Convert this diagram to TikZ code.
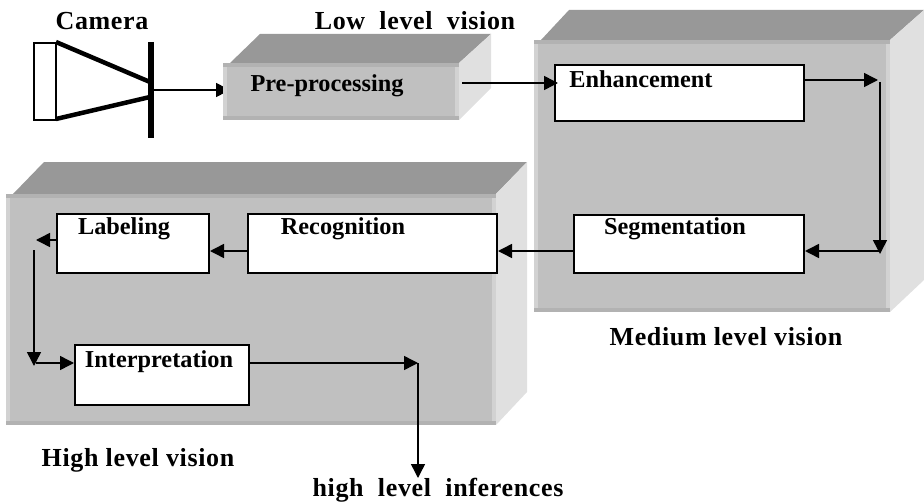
\documentclass[tikz,border=0pt]{standalone}
\usepackage{fontspec}
\setmainfont{Liberation Serif}
\usetikzlibrary{arrows.meta}
\definecolor{topgray}{HTML}{989898}
\definecolor{frontgray}{HTML}{C0C0C0}
\definecolor{rimgray}{HTML}{B2B2B2}
\definecolor{edgegray}{HTML}{D2D2D2}
\definecolor{sidegray}{HTML}{E0E0E0}
\begin{document}
\begin{tikzpicture}[x=1pt,y=-1pt,
				tag/.style={font=\fontsize{24.3}{26}\selectfont\bfseries,inner sep=0pt},
				outertag/.style={font=\fontsize{26}{28}\selectfont\bfseries\addfontfeature{LetterSpace=2.5},inner sep=0pt},
				stagebox/.style={draw,line width=2pt,fill=white,anchor=north west,inner sep=0pt},
				link/.style={line width=1.5pt,-{Triangle[length=14pt,width=14pt]}},
				toppart/.style={fill=topgray},
				sidepart/.style={fill=sidegray},
				frontpart/.style={fill=frontgray},
				rimh/.style={draw=rimgray,line width=4pt},
				rimv/.style={draw=edgegray,line width=4pt}]
\useasboundingbox (0,0) rectangle (924,503);
% this one ends under the low level block
\coordinate (camout) at (153,90);
\coordinate (prein) at (230,90);
\draw[link] (camout) -- (prein);
% low level block
\fill[toppart] (230,63) -- (260,34) -- (491,34) -- (459,63) -- cycle;
\fill[sidepart] (459,63) -- (491,34) -- (491,88) -- (459,120) -- cycle;
\fill[frontpart] (223,63) rectangle (459,120);
\draw[rimv] (225,63) -- (225,120);
\draw[rimv] (457,63) -- (457,120);
\draw[rimh] (223,65) -- (459,65);
\draw[rimh] (223,118) -- (459,118);
% medium level block
\fill[toppart] (541,40) -- (569,10) -- (924,10) -- (890,40) -- cycle;
\fill[sidepart] (890,40) -- (924,10) -- (924,280) -- (890,312) -- cycle;
\fill[frontpart] (534,40) rectangle (890,312);
\draw[rimv] (536,40) -- (536,312);
\draw[rimv] (888,40) -- (888,312);
\draw[rimh] (534,42) -- (890,42);
\draw[rimh] (534,310) -- (890,310);
% high level block
\fill[toppart] (13,194) -- (44,162) -- (527,162) -- (496,194) -- cycle;
\fill[sidepart] (496,194) -- (527,162) -- (527,392) -- (496,425) -- cycle;
\fill[frontpart] (6,194) rectangle (496,425);
\draw[rimv] (8,194) -- (8,425);
\draw[rimv] (494,194) -- (494,425);
\draw[rimh] (6,196) -- (496,196);
\draw[rimh] (6,423) -- (496,423);
% camera
\draw[line width=1.2pt] (34,43) rectangle (56,120);
\draw[line width=4.5pt] (56,42) -- (150,82);
\draw[line width=4.5pt] (56,119) -- (150,97);
\draw[line width=6pt] (151,42) -- (151,138);
% stages
\node[stagebox,minimum width=249pt,minimum height=56pt] (enhance) at (554,64) {};
\node[stagebox,minimum width=230pt,minimum height=58pt] (segment) at (573,214) {};
\node[stagebox,minimum width=249pt,minimum height=59pt] (recog) at (247,213) {};
\node[stagebox,minimum width=152pt,minimum height=59pt] (label) at (56,213) {};
\node[stagebox,minimum width=174pt,minimum height=60pt] (interp) at (74,344) {};
% texts
\node[outertag] (camtext) at (102,21) {Camera};
\node[outertag] (lowtext) at (415,21) {Low\ \ level\ \ vision};
\node[tag] (pretext) at (327,86) {Pre-processing};
\node[tag] (enhtext) at (641,79) {Enhancement};
\node[tag] (segtext) at (675,229) {Segmentation};
\node[tag] (rectext) at (343,229) {Recognition};
\node[tag] (labtext) at (124,229) {Labeling};
\node[tag] (inttext) at (159,362) {Interpretation};
\node[outertag] (medtext) at (726,337) {Medium level vision};
\node[outertag] (hightext) at (138,460) {High level vision};
\node[outertag] (inftext) at (438,490) {high\ \ level\ \ inferences};
% free ends
\coordinate (preout) at (462,83);
\coordinate (enhin) at (558,83);
\coordinate (enhend) at (878,80);
\coordinate (downtop) at (880,82);
\coordinate (downend) at (880,254);
\coordinate (segback) at (880,251);
\coordinate (segmid) at (573,251);
\coordinate (labend) at (36,240);
\coordinate (lefttop) at (34,250);
\coordinate (leftend) at (34,366);
\coordinate (intback) at (36,363);
\coordinate (intend) at (418,363);
\coordinate (infend) at (418,478);
% connectors
\draw[link] (preout) -- (enhin);
\draw[link] (enhance.east |- enhend) -- (enhend);
\draw[link] (downtop) -- (downend);
\draw[link] (segback) -- (segment.east |- segback);
\draw[link] (segmid) -- (recog.east |- segmid);
\draw[link] (recog.west |- segmid) -- (label.east |- segmid);
\draw[link] (label.west |- labend) -- (labend);
\draw[link] (lefttop) -- (leftend);
\draw[link] (intback) -- (interp.west |- intback);
\draw[link] (interp.east |- intend) -- (intend);
\draw[link] (intend) -- (infend);
\end{tikzpicture}
\end{document}
